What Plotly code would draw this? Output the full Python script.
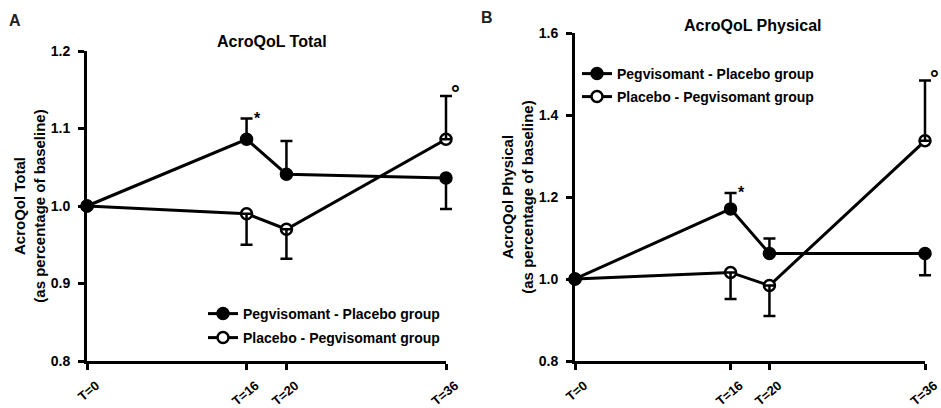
import plotly.graph_objects as go

# ---------------- data ----------------
time_points = [0, 16, 20, 36]
tick_labels = ["T=0", "T=16", "T=20", "T=36"]
series_names = ["Pegvisomant - Placebo group", "Placebo - Pegvisomant group"]

# Panel A: AcroQoL Total
total_ticks = [0.8, 0.9, 1.0, 1.1, 1.2]
total_peg = [1.000, 1.086, 1.041, 1.036]
total_peg_err_up = [0, 0.027, 0.043, 0]
total_peg_err_down = [0, 0, 0, 0.040]
total_pla = [1.000, 0.990, 0.970, 1.086]
total_pla_err_up = [0, 0, 0, 0.056]
total_pla_err_down = [0, 0.040, 0.038, 0]

# Panel B: AcroQoL Physical
phys_ticks = [0.8, 1.0, 1.2, 1.4, 1.6]
phys_peg = [1.000, 1.171, 1.062, 1.062]
phys_peg_err_up = [0, 0.039, 0.037, 0]
phys_peg_err_down = [0, 0, 0, 0.053]
phys_pla = [1.000, 1.016, 0.984, 1.337]
phys_pla_err_up = [0, 0, 0, 0.147]
phys_pla_err_down = [0, 0.065, 0.074, 0]

# significance marks: (panel, x, y at end of bar, symbol)
sig_marks = [
    ("A", 16, 1.113, "*"),
    ("A", 36, 1.142, "°"),
    ("B", 16, 1.210, "*"),
    ("B", 36, 1.484, "°"),
]

FONT = "Liberation Sans, Arial, sans-serif"
W, H = 941, 408


def px_x(p):
    return p / W


def px_y(p):
    return (H - p) / H


# pixel geometry of the two panels
A_L, A_R, A_T = 87, 446, 51
B_L, B_R, B_T = 575, 925, 33
BOT = 361
PAD = 12  # extra room so the error bars at the last time point are not clipped


def b(s):
    return "<b>" + s + "</b>"


fig = go.Figure()


def add_series(xa_err, xa, ya, y, up, down, name, filled, legend):
    # error bars (drawn first, underneath markers)
    fig.add_trace(go.Scatter(
        x=time_points, y=y, xaxis=xa_err, yaxis=ya, mode="markers",
        marker=dict(size=1, opacity=0),
        error_y=dict(type="data", symmetric=False, array=up, arrayminus=down,
                     color="black", thickness=2.5, width=6),
        showlegend=False, hoverinfo="skip", cliponaxis=False))
    fig.add_trace(go.Scatter(
        x=time_points, y=y, xaxis=xa, yaxis=ya, mode="lines+markers",
        name=b(name), legend=legend,
        line=dict(color="black", width=3),
        marker=dict(symbol="circle", size=12 if filled else 11,
                    color="black" if filled else "white",
                    line=dict(color="black", width=1.5 if filled else 2.5)),
        cliponaxis=False))


add_series("x3", "x", "y", total_pla, total_pla_err_up, total_pla_err_down, series_names[1], False, "legend2")
add_series("x3", "x", "y", total_peg, total_peg_err_up, total_peg_err_down, series_names[0], True, "legend")
add_series("x4", "x2", "y2", phys_pla, phys_pla_err_up, phys_pla_err_down, series_names[1], False, "legend4")
add_series("x4", "x2", "y2", phys_peg, phys_peg_err_up, phys_peg_err_down, series_names[0], True, "legend3")

axis_common = dict(showline=True, linecolor="black", linewidth=3, ticks="outside",
                   ticklen=6, tickwidth=2.5, tickcolor="black", showgrid=False,
                   zeroline=False, automargin=False)

x0, x1 = time_points[0], time_points[-1]
xaxis_common = dict(axis_common, range=[x0, x1], tickvals=time_points,
                    ticktext=[b(t) for t in tick_labels], tickangle=-40,
                    tickfont=dict(family=FONT, size=13, color="black"),
                    ticklabelshift=9, ticklabelstandoff=3)
yaxis_common = dict(axis_common, tickfont=dict(family=FONT, size=14, color="black"),
                    ticklabelstandoff=5)

titlefont = dict(family=FONT, size=15, color="black")

# invisible helper axes: same scale as the visible x axes, a little wider to the right
a_ext = x1 + (x1 - x0) * PAD / (A_R - A_L)
b_ext = x1 + (x1 - x0) * PAD / (B_R - B_L)

fig.update_layout(
    width=W, height=H, margin=dict(l=0, r=0, t=0, b=0, autoexpand=False),
    paper_bgcolor="white", plot_bgcolor="rgba(0,0,0,0)",
    font=dict(family=FONT, color="black"),
    xaxis=dict(xaxis_common, domain=[px_x(A_L), px_x(A_R)], anchor="y"),
    yaxis=dict(yaxis_common, domain=[px_y(BOT), px_y(A_T)], anchor="x", range=[0.8, 1.2],
               tickvals=total_ticks, ticktext=[b(f"{v:.1f}") for v in total_ticks],
               title=dict(text=b("AcroQol Total<br>(as percentage of baseline)"),
                          font=titlefont, standoff=2)),
    xaxis2=dict(xaxis_common, domain=[px_x(B_L), px_x(B_R)], anchor="y2"),
    yaxis2=dict(yaxis_common, domain=[px_y(BOT), px_y(B_T)], anchor="x2", range=[0.8, 1.6],
                tickvals=phys_ticks, ticktext=[b(f"{v:.1f}") for v in phys_ticks],
                title=dict(text=b("AcroQol Physical<br>(as percentage of baseline)"),
                           font=titlefont, standoff=2)),
    xaxis3=dict(visible=False, domain=[px_x(A_L), px_x(A_R + PAD)], range=[x0, a_ext],
                anchor="y", automargin=False),
    xaxis4=dict(visible=False, domain=[px_x(B_L), px_x(B_R + PAD)], range=[x0, b_ext],
                anchor="y2", automargin=False),
)

legfont = dict(family=FONT, size=14, color="black")
legend_pos = {
    "legend": (203, 314),
    "legend2": (203, 338),
    "legend3": (577, 74),
    "legend4": (577, 97),
}
for key, (lx, ly) in legend_pos.items():
    fig.update_layout({key: dict(x=px_x(lx), y=px_y(ly), xanchor="left", yanchor="middle",
                                 bgcolor="rgba(0,0,0,0)", font=legfont, borderwidth=0,
                                 itemwidth=30)})

annotations = [
    dict(text=b("A"), x=px_x(15), y=px_y(20), xref="paper", yref="paper", showarrow=False,
         xanchor="center", yanchor="middle",
         font=dict(family=FONT, size=16, color="#222")),
    dict(text=b("B"), x=px_x(487), y=px_y(18), xref="paper", yref="paper", showarrow=False,
         xanchor="center", yanchor="middle",
         font=dict(family=FONT, size=16, color="#222")),
    dict(text=b("AcroQoL Total"), x=px_x(272), y=px_y(42), xref="paper", yref="paper",
         xanchor="center", yanchor="middle",
         showarrow=False, font=dict(family=FONT, size=16, color="black")),
    dict(text=b("AcroQoL Physical"), x=px_x(753), y=px_y(25), xref="paper", yref="paper",
         xanchor="center", yanchor="middle",
         showarrow=False, font=dict(family=FONT, size=16, color="black")),
]
for panel, sx, sy, sym in sig_marks:
    xr, yr = ("x", "y") if panel == "A" else ("x2", "y2")
    annotations.append(dict(text=b(sym), x=sx, y=sy, xref=xr, yref=yr, showarrow=False,
                            xanchor="left", yanchor="middle",
                            xshift=5 if sym == "*" else 3,
                            yshift=0 if sym == "*" else 2,
                            font=dict(family=FONT, size=16 if sym == "*" else 22,
                                      color="black")))
fig.update_layout(annotations=annotations)

fig.write_html("out.html")
